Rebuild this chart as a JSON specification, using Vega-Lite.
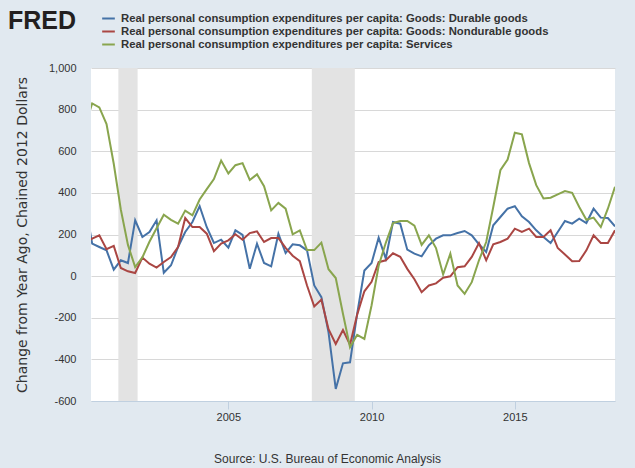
{
  "$schema": "https://vega.github.io/schema/vega-lite/v6.json",
  "width": 524,
  "height": 333,
  "autosize": {"type": "none"},
  "padding": {"left": 91, "top": 68, "right": 20, "bottom": 67},
  "background": "#e1e9f0",
  "view": {"fill": "#ffffff", "stroke": null},
  "config": {"font": "Liberation Sans"},
  "title": {"text": "FRED", "anchor": "start", "frame": "group", "dx": -83, "offset": -23, "fontSize": 25, "fontWeight": "bold", "font": "Liberation Sans", "color": "#231f20"},
  "datasets": {
    "pce": [
      {"date": "2000-01-01", "d": 350, "n": 160, "s": 720},
      {"date": "2000-04-01", "d": 156, "n": 180, "s": 830},
      {"date": "2000-07-01", "d": 140, "n": 196, "s": 811},
      {"date": "2000-10-01", "d": 124, "n": 129, "s": 731},
      {"date": "2001-01-01", "d": 31, "n": 145, "s": 540},
      {"date": "2001-04-01", "d": 76, "n": 39, "s": 320},
      {"date": "2001-07-01", "d": 63, "n": 23, "s": 150},
      {"date": "2001-10-01", "d": 268, "n": 15, "s": 43},
      {"date": "2002-01-01", "d": 188, "n": 89, "s": 90},
      {"date": "2002-04-01", "d": 212, "n": 60, "s": 165},
      {"date": "2002-07-01", "d": 268, "n": 41, "s": 230},
      {"date": "2002-10-01", "d": 16, "n": 68, "s": 295},
      {"date": "2003-01-01", "d": 52, "n": 92, "s": 270},
      {"date": "2003-04-01", "d": 140, "n": 140, "s": 252},
      {"date": "2003-07-01", "d": 212, "n": 279, "s": 315},
      {"date": "2003-10-01", "d": 260, "n": 236, "s": 292},
      {"date": "2004-01-01", "d": 336, "n": 236, "s": 368},
      {"date": "2004-04-01", "d": 235, "n": 204, "s": 418},
      {"date": "2004-07-01", "d": 159, "n": 120, "s": 466},
      {"date": "2004-10-01", "d": 175, "n": 156, "s": 555},
      {"date": "2005-01-01", "d": 137, "n": 172, "s": 493},
      {"date": "2005-04-01", "d": 220, "n": 201, "s": 533},
      {"date": "2005-07-01", "d": 198, "n": 175, "s": 543},
      {"date": "2005-10-01", "d": 35, "n": 207, "s": 462},
      {"date": "2006-01-01", "d": 156, "n": 215, "s": 489},
      {"date": "2006-04-01", "d": 63, "n": 164, "s": 432},
      {"date": "2006-07-01", "d": 47, "n": 183, "s": 316},
      {"date": "2006-10-01", "d": 204, "n": 183, "s": 352},
      {"date": "2007-01-01", "d": 111, "n": 136, "s": 324},
      {"date": "2007-04-01", "d": 153, "n": 98, "s": 201},
      {"date": "2007-07-01", "d": 148, "n": 72, "s": 220},
      {"date": "2007-10-01", "d": 124, "n": -45, "s": 125},
      {"date": "2008-01-01", "d": -45, "n": -146, "s": 125},
      {"date": "2008-04-01", "d": -101, "n": -113, "s": 161},
      {"date": "2008-07-01", "d": -270, "n": -255, "s": 33},
      {"date": "2008-10-01", "d": -542, "n": -326, "s": -9},
      {"date": "2009-01-01", "d": -419, "n": -259, "s": -181},
      {"date": "2009-04-01", "d": -414, "n": -330, "s": -342},
      {"date": "2009-07-01", "d": -181, "n": -185, "s": -282},
      {"date": "2009-10-01", "d": 27, "n": -73, "s": -302},
      {"date": "2010-01-01", "d": 63, "n": -27, "s": -140},
      {"date": "2010-04-01", "d": 185, "n": 67, "s": 50},
      {"date": "2010-07-01", "d": 84, "n": 76, "s": 160},
      {"date": "2010-10-01", "d": 260, "n": 110, "s": 255},
      {"date": "2011-01-01", "d": 252, "n": 93, "s": 265},
      {"date": "2011-04-01", "d": 127, "n": 35, "s": 265},
      {"date": "2011-07-01", "d": 108, "n": -15, "s": 242},
      {"date": "2011-10-01", "d": 95, "n": -77, "s": 150},
      {"date": "2012-01-01", "d": 148, "n": -45, "s": 196},
      {"date": "2012-04-01", "d": 180, "n": -35, "s": 135},
      {"date": "2012-07-01", "d": 196, "n": -8, "s": 8},
      {"date": "2012-10-01", "d": 196, "n": -1, "s": 108},
      {"date": "2013-01-01", "d": 207, "n": 43, "s": -45},
      {"date": "2013-04-01", "d": 217, "n": 47, "s": -85},
      {"date": "2013-07-01", "d": 196, "n": 92, "s": -29},
      {"date": "2013-10-01", "d": 153, "n": 159, "s": 76},
      {"date": "2014-01-01", "d": 116, "n": 76, "s": 164},
      {"date": "2014-04-01", "d": 244, "n": 153, "s": 332},
      {"date": "2014-07-01", "d": 284, "n": 164, "s": 509},
      {"date": "2014-10-01", "d": 324, "n": 180, "s": 560},
      {"date": "2015-01-01", "d": 336, "n": 228, "s": 689},
      {"date": "2015-04-01", "d": 287, "n": 212, "s": 681},
      {"date": "2015-07-01", "d": 260, "n": 228, "s": 543},
      {"date": "2015-10-01", "d": 220, "n": 188, "s": 437},
      {"date": "2016-01-01", "d": 188, "n": 188, "s": 373},
      {"date": "2016-04-01", "d": 159, "n": 220, "s": 377},
      {"date": "2016-07-01", "d": 212, "n": 135, "s": 393},
      {"date": "2016-10-01", "d": 265, "n": 104, "s": 409},
      {"date": "2017-01-01", "d": 252, "n": 71, "s": 400},
      {"date": "2017-04-01", "d": 276, "n": 72, "s": 332},
      {"date": "2017-07-01", "d": 255, "n": 124, "s": 271},
      {"date": "2017-10-01", "d": 324, "n": 196, "s": 281},
      {"date": "2018-01-01", "d": 281, "n": 159, "s": 236},
      {"date": "2018-04-01", "d": 279, "n": 159, "s": 324},
      {"date": "2018-07-01", "d": 239, "n": 220, "s": 429}
    ],
    "rec": [
      {"start": "2001-03-01", "end": "2001-11-01"},
      {"start": "2007-12-01", "end": "2009-06-01"}
    ]
  },
  "layer": [
    {
      "data": {"name": "rec"},
      "mark": {"type": "rect", "color": "#e3e3e3"},
      "encoding": {
        "x": {
          "field": "start",
          "type": "temporal",
          "scale": {"domain": ["2000-03-17", "2018-07-01"]},
          "axis": {
            "values": [{"year": 2005}, {"year": 2010}, {"year": 2015}],
            "format": "%Y",
            "grid": false,
            "domainColor": "#c0d0e0",
            "tickColor": "#c0d0e0",
            "tickSize": 8,
            "labelPadding": 2,
            "labelFontSize": 11,
            "labelColor": "#333333",
            "title": "Source: U.S. Bureau of Economic Analysis",
            "titleFontSize": 12,
            "titleFontWeight": "normal",
            "titleColor": "#333333",
            "titleX": 236,
            "titleY": 61,
            "titleAlign": "center",
            "titleBaseline": "alphabetic"
          }
        },
        "x2": {"field": "end"}
      }
    },
    {
      "data": {"name": "pce"},
      "transform": [{"fold": ["d", "n", "s"], "as": ["series", "value"]}],
      "mark": {"type": "line", "strokeWidth": 2, "clip": true},
      "encoding": {
        "x": {"field": "date", "type": "temporal"},
        "y": {
          "field": "value",
          "type": "quantitative",
          "scale": {"domain": [-600, 1000], "nice": false},
          "axis": {
            "values": [-600, -400, -200, 0, 200, 400, 600, 800, 1000],
            "labelExpr": "replace(format(datum.value, ','), '\u2212', '-')",
            "grid": true,
            "gridColor": "#d8d8d8",
            "domain": false,
            "ticks": false,
            "labelPadding": 15,
            "labelFontSize": 11,
            "labelColor": "#333333",
            "title": "Change from Year Ago, Chained 2012 Dollars",
            "titleFont": "DejaVu Sans",
            "titleFontSize": 14,
            "titleFontWeight": "normal",
            "titleColor": "#333333",
            "titleX": -69,
            "titleY": 166.5,
            "titleAlign": "center",
            "titleBaseline": "middle",
            "titleAngle": -90
          }
        },
        "color": {
          "field": "series",
          "type": "nominal",
          "scale": {"domain": ["d", "n", "s"], "range": ["#4572a7", "#aa4643", "#89a54e"]},
          "legend": {
            "orient": "none",
            "legendX": 10,
            "legendY": -57,
            "title": null,
            "padding": 0,
            "symbolType": "stroke",
            "symbolSize": 160,
            "symbolStrokeWidth": 2,
            "labelFont": "Liberation Sans",
            "labelFontWeight": "bold",
            "labelFontSize": 11.3,
            "labelColor": "#333333",
            "labelLimit": 600,
            "labelOffset": 5,
            "rowPadding": 0,
            "labelExpr": "datum.label == 'd' ? 'Real personal consumption expenditures per capita: Goods: Durable goods' : datum.label == 'n' ? 'Real personal consumption expenditures per capita: Goods: Nondurable goods' : 'Real personal consumption expenditures per capita: Services'"
          }
        }
      }
    },
    {
      "mark": {"type": "rule", "color": "#000000", "strokeWidth": 2},
      "encoding": {"y": {"datum": 0}}
    }
  ]
}
